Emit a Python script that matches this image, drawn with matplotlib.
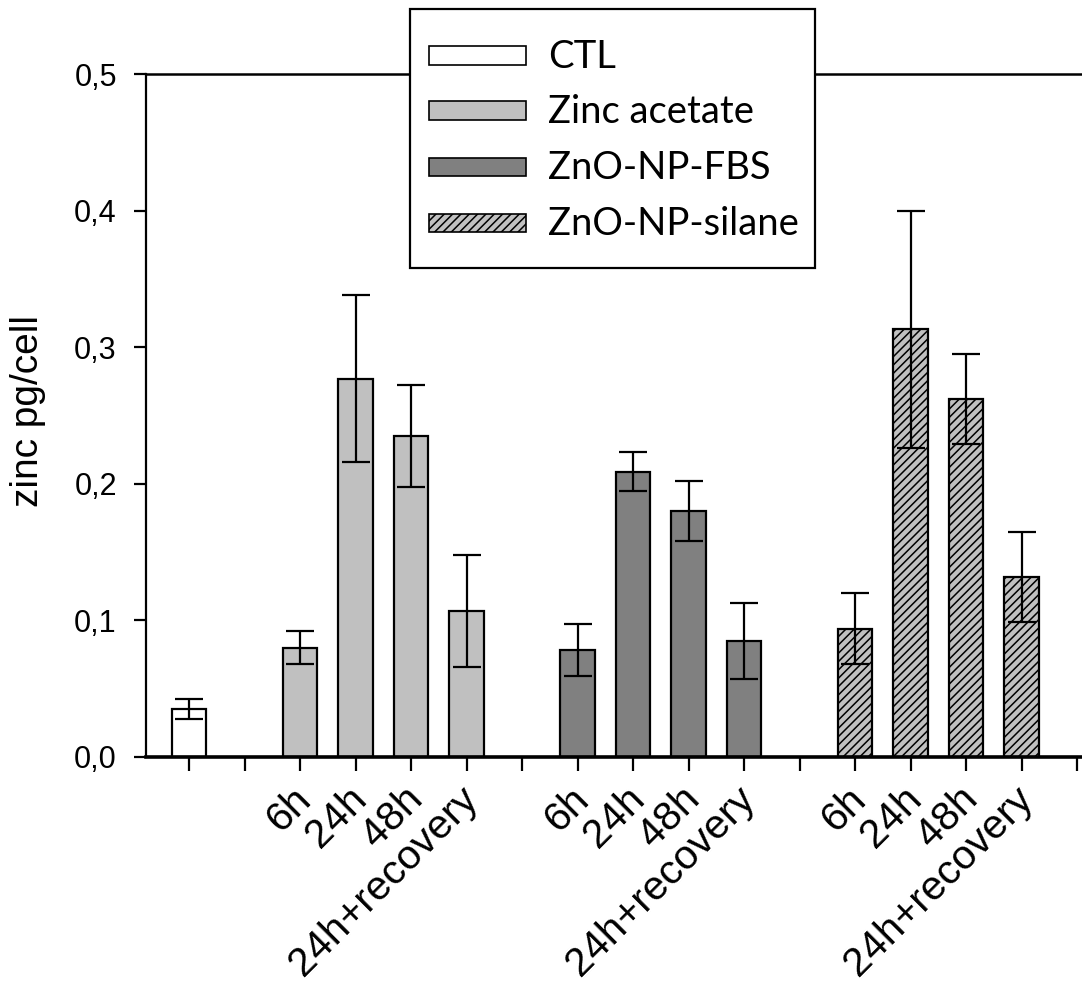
import matplotlib
matplotlib.use("Agg")
import matplotlib.pyplot as plt
import matplotlib.transforms as mtransforms
from matplotlib.patches import Rectangle

plt.rcParams['font.family'] = ['Liberation Sans', 'DejaVu Sans']
plt.rcParams['hatch.linewidth'] = 1.1

# Data: zinc content per cell (pg/cell), mean and error
groups = ["CTL", "Zinc acetate", "ZnO-NP-FBS", "ZnO-NP-silane"]
times = ["6h", "24h", "48h", "24h+recovery"]

ctl_mean = [0.035]
ctl_err = [0.0075]
acetate_mean = [0.080, 0.277, 0.235, 0.107]
acetate_err = [0.012, 0.061, 0.037, 0.041]
fbs_mean = [0.078, 0.209, 0.180, 0.085]
fbs_err = [0.019, 0.014, 0.022, 0.028]
silane_mean = [0.094, 0.313, 0.262, 0.132]
silane_err = [0.026, 0.087, 0.033, 0.033]

# slot positions on the category axis (one gap between groups)
ctl_pos = [0]
acetate_pos = [2, 3, 4, 5]
fbs_pos = [7, 8, 9, 10]
silane_pos = [12, 13, 14, 15]
n_slots = 17

# bar styles per group
face_colors = ["white", "#c0c0c0", "#808080", "#c0c0c0"]
hatches = [None, None, None, "////"]

W, H = 1082, 984
fig = plt.figure(figsize=(W / 100, H / 100), dpi=100)
ax = fig.add_axes([146 / W, 1 - 757 / H, (W - 146) / W, (757 - 74) / H])

bar_w = 0.62
edge_lw = 1.6
err_kw = dict(ecolor="black", elinewidth=1.6, capsize=10, capthick=1.6)

series = [
    (ctl_pos, ctl_mean, ctl_err),
    (acetate_pos, acetate_mean, acetate_err),
    (fbs_pos, fbs_mean, fbs_err),
    (silane_pos, silane_mean, silane_err),
]
for (pos, mean, err), fc, ht in zip(series, face_colors, hatches):
    ax.bar(pos, mean, bar_w, color=fc, edgecolor="black", linewidth=edge_lw,
           hatch=ht, yerr=err, error_kw=err_kw, zorder=2)

ax.set_xlim(-0.775, 16.09)
ax.set_ylim(0, 0.5)

# axis styling
ax.spines["right"].set_visible(False)
ax.spines["left"].set_linewidth(1.6)
ax.spines["top"].set_linewidth(1.8)
ax.spines["bottom"].set_linewidth(2.6)

ax.set_yticks([0.0, 0.1, 0.2, 0.3, 0.4, 0.5])
ax.set_yticklabels(["0,0", "0,1", "0,2", "0,3", "0,4", "0,5"], fontsize=22)
ax.tick_params(axis="y", direction="out", length=9, width=1.6, pad=12)

xlabels = [""] * n_slots
for p, t in zip(acetate_pos, times):
    xlabels[p] = t
for p, t in zip(fbs_pos, times):
    xlabels[p] = t
for p, t in zip(silane_pos, times):
    xlabels[p] = t
ax.set_xticks(range(n_slots))
ax.set_xticklabels(xlabels, fontsize=29.5, rotation=45, ha="right", va="top",
                   rotation_mode="anchor")
ax.tick_params(axis="x", direction="out", length=10, width=1.6, pad=6)
shift = mtransforms.ScaledTranslation(-0.08, 0.0, fig.dpi_scale_trans)
for lbl in ax.get_xticklabels():
    lbl.set_transform(lbl.get_transform() + shift)

fig.text(28 / W, 1 - 411 / H, "zinc pg/cell", rotation=90, ha="center",
         va="center", fontsize=28)

# legend box, drawn in figure pixel coordinates
def fx(px):
    return px / W

def fy(py):
    return 1 - py / H

fig.patches.append(Rectangle((fx(410), fy(268)), fx(815) - fx(410),
                             fy(9) - fy(268), transform=fig.transFigure,
                             facecolor="white", edgecolor="black",
                             linewidth=1.6, zorder=10))
row_y = [55.5, 110.5, 166.5, 222.5]
for label, fc, ht, ry in zip(groups, face_colors, hatches, row_y):
    fig.patches.append(Rectangle((fx(429), fy(ry + 9)), fx(526) - fx(429),
                                 fy(ry - 9) - fy(ry + 9),
                                 transform=fig.transFigure, facecolor=fc,
                                 edgecolor="black", linewidth=1.2, hatch=ht,
                                 zorder=11))
    fig.text(fx(548), fy(ry + 1.5), label, ha="left", va="center",
             fontsize=27.5, family=["Lato", "DejaVu Sans"], zorder=12)

fig.savefig("out.png", dpi=100)
